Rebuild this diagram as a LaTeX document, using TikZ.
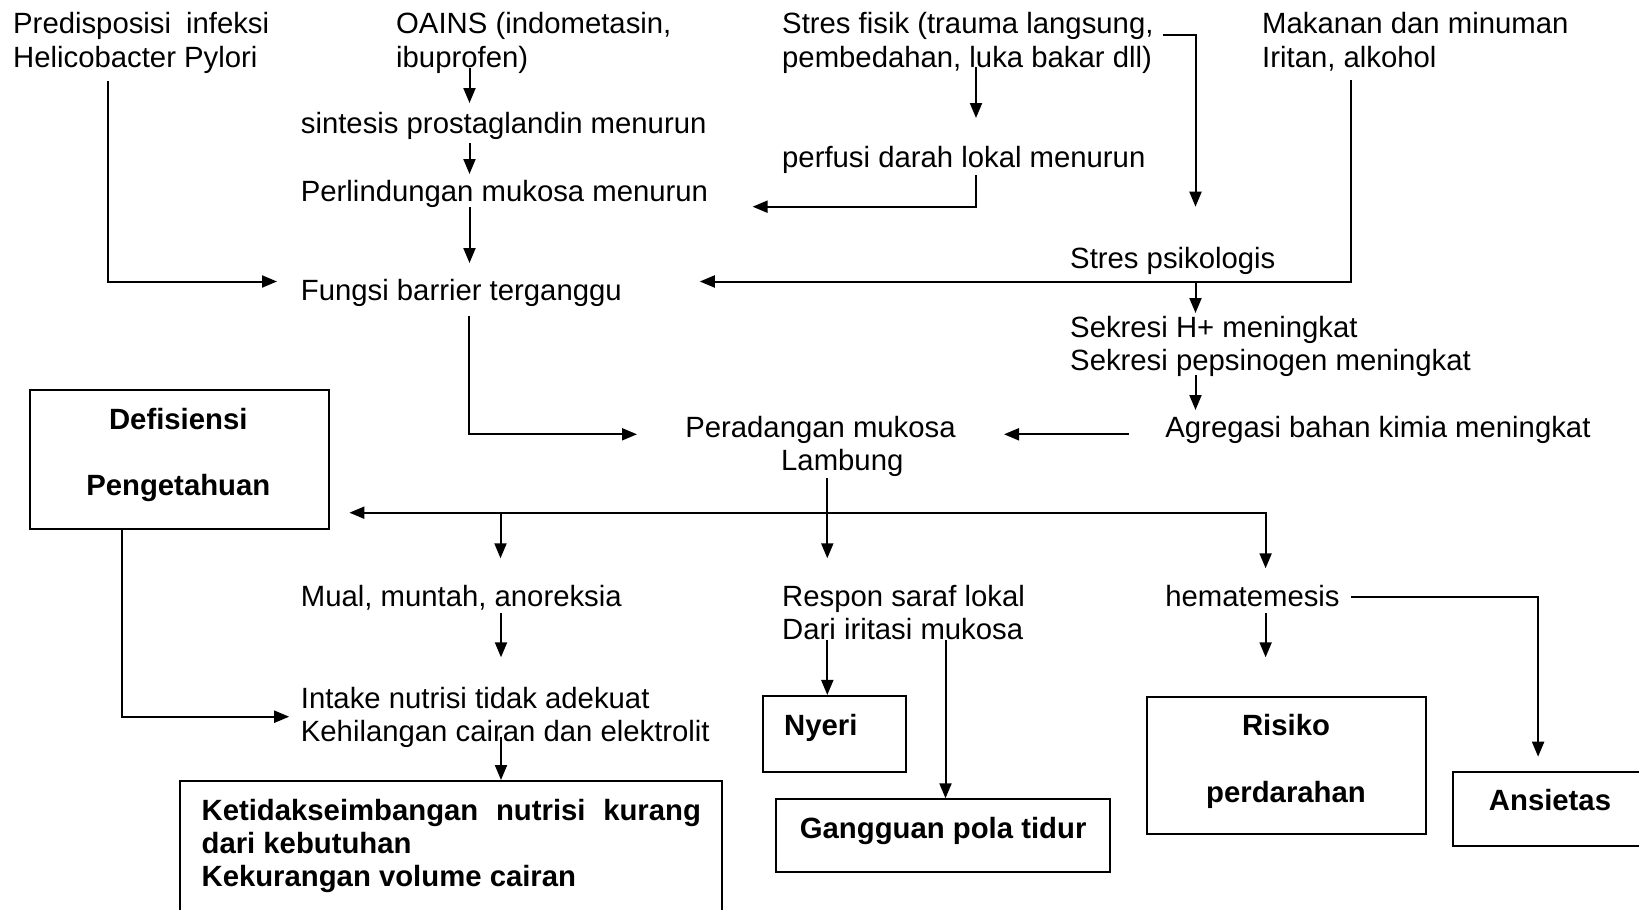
\documentclass[tikz,border=0pt]{standalone}
\usepackage{fontspec}
\setmainfont{Liberation Sans}
\usetikzlibrary{arrows.meta,calc}
\tikzset{
  >={Triangle[length=15pt,width=12pt]},
  txt/.style={anchor=base west,inner sep=0pt,align=left,yshift=-2pt,font=\fontsize{29.3}{33.3}\selectfont},
  btxt/.style={inner sep=0pt,yshift=-2pt,font=\fontsize{29.3}{33.3}\selectfont\bfseries},
  bx/.style={draw,line width=2pt,inner sep=0pt},
  ln/.style={line width=2pt},
  arr/.style={line width=2pt,->},
}
\begin{document}
\begin{tikzpicture}[x=1pt,y=-1pt]
\useasboundingbox (0,0) rectangle (1639,910);
% ---------- text nodes (base anchor = baseline of the last line)
\node[txt] (pred) at (13,65) {\makebox[256pt][s]{Predisposisi infeksi}\\Helicobacter Pylori};
\node[txt] (oains) at (396,65) {OAINS (indometasin,\\ibuprofen)};
\node[txt] (fisik) at (782,65) {Stres fisik (trauma langsung,\\pembedahan, luka bakar dll)};
\node[txt] (makan) at (1262,65) {Makanan dan minuman\\Iritan, alkohol};
\node[txt] (sint) at (300.7,131.5) {sintesis prostaglandin menurun};
\node[txt] (perf) at (782,165.7) {perfusi darah lokal menurun};
\node[txt] (perl) at (300.7,199.3) {Perlindungan mukosa menurun};
\node[txt] (psik) at (1070,266.7) {Stres psikologis};
\node[txt] (fung) at (300.7,298.3) {Fungsi barrier terganggu};
\node[txt] (sekr) at (1070,368.3) {Sekresi H+ meningkat\\Sekresi pepsinogen meningkat};
\node[txt] (agre) at (1165.2,435) {Agregasi bahan kimia meningkat};
\node[txt] (pera) at (685.1,468.3) {Peradangan mukosa\\\hspace*{95.9pt}Lambung};
\node[txt] (mual) at (300.7,604.3) {Mual, muntah, anoreksia};
\node[txt] (resp) at (782,637.6) {Respon saraf lokal\\Dari iritasi mukosa};
\node[txt] (hema) at (1165.2,604.3) {hematemesis};
\node[txt] (intk) at (300.7,739.3) {Intake nutrisi tidak adekuat\\Kehilangan cairan dan elektrolit};
% ---------- boxes
\node[bx,minimum width=298.7pt,minimum height=139.3pt] (defb) at (179.2,459.7) {};
\node[btxt,anchor=base,align=center] (deft) at (178.3,493.3) {Defisiensi\\[32.7pt]Pengetahuan};
\node[bx,minimum width=542pt,minimum height=160pt] (ketb) at (451,861) {};
\node[btxt,anchor=base west,align=left] (kett) at (201.4,884.9) {\makebox[499.4pt][s]{Ketidakseimbangan nutrisi kurang}\\dari kebutuhan\\Kekurangan volume cairan};
\node[bx,minimum width=143.3pt,minimum height=76.3pt] (nyeb) at (834.6,734.1) {};
\node[btxt,anchor=base west] (nyet) at (784,733.3) {Nyeri};
\node[bx,minimum width=334.7pt,minimum height=72.4pt] (ganb) at (942.9,835.5) {};
\node[btxt,anchor=base west] (gant) at (799.7,836) {Gangguan pola tidur};
\node[bx,minimum width=278.8pt,minimum height=137.3pt] (risb) at (1286.3,765.3) {};
\node[btxt,anchor=base,align=center] (rist) at (1286,800) {Risiko\\[33.4pt]perdarahan};
\node[bx,minimum width=207pt,minimum height=74pt] (ansb) at (1556.3,809) {};
\node[btxt,anchor=base] (anst) at (1550,808.3) {Ansietas};
% ---------- connector points
\coordinate (a0) at (108.3,81);   \coordinate (a1) at (277,281.5);
\coordinate (b0) at (469.5,68);   \coordinate (b1) at (469.5,103);
\coordinate (c0) at (469.5,143);  \coordinate (c1) at (469.5,174);
\coordinate (d0) at (469.5,207);  \coordinate (d1) at (469.5,263);
\coordinate (e0) at (976,67);     \coordinate (e1) at (976,118);
\coordinate (f0) at (1162.6,34.5);\coordinate (f1) at (1195.5,34.5); \coordinate (f2) at (1195.5,206.7);
\coordinate (g0) at (976,175);    \coordinate (g1) at (752.6,206.7);
\coordinate (h0) at (1351.4,80);  \coordinate (h1) at (699.8,281.5);
\coordinate (i0) at (1195.5,281.5); \coordinate (i1) at (1195.5,313);
\coordinate (j0) at (1195.5,375); \coordinate (j1) at (1195.5,410);
\coordinate (k0) at (1128.6,434.3); \coordinate (k1) at (1004,434.3);
\coordinate (l0) at (468.6,315.7); \coordinate (l1) at (637,434.3);
\coordinate (m0) at (827.3,478);  \coordinate (m1) at (827.3,558.3);
\coordinate (n0) at (349.4,512.7); \coordinate (n1) at (1265.6,568.3);
\coordinate (o0) at (500.5,512.7); \coordinate (o1) at (500.5,558.3);
\coordinate (p0) at (501,613.3);  \coordinate (p1) at (501,657.3);
\coordinate (q0) at (501,736.7);
\coordinate (r1) at (289.2,716.7);
\coordinate (s0) at (827.3,640);
\coordinate (t0) at (945.5,640);
\coordinate (u0) at (1265.6,613.3); \coordinate (u1) at (1265.6,657.3);
\coordinate (v0) at (1350.9,596.7); \coordinate (v1) at (1538.1,756.7);
% ---------- connectors
\draw[arr] (a0) |- (a1);
\draw[arr] (b0) -- (b1);
\draw[arr] (c0) -- (c1);
\draw[arr] (d0) -- (d1);
\draw[arr] (e0) -- (e1);
\draw[arr] (f0) -- (f1) -- (f2);
\draw[arr] (g0) |- (g1);
\draw[arr] (h0) |- (h1);
\draw[arr] (i0) -- (i1);
\draw[arr] (j0) -- (j1);
\draw[arr] (k0) -- (k1);
\draw[arr] (l0) |- (l1);
\draw[arr] (m0) -- (m1);
\draw[line width=2pt,<->] (n0) -| (n1);
\draw[arr] (o0) -- (o1);
\draw[arr] (p0) -- (p1);
\draw[arr] (q0) -- (q0 |- ketb.north);
\draw[arr] (defb.south -| 121.9,0) |- (r1);
\draw[arr] (s0) -- (s0 |- nyeb.north);
\draw[arr] (t0) -- (t0 |- ganb.north);
\draw[arr] (u0) -- (u1);
\draw[arr] (v0) -| (v1);
\end{tikzpicture}
\end{document}
